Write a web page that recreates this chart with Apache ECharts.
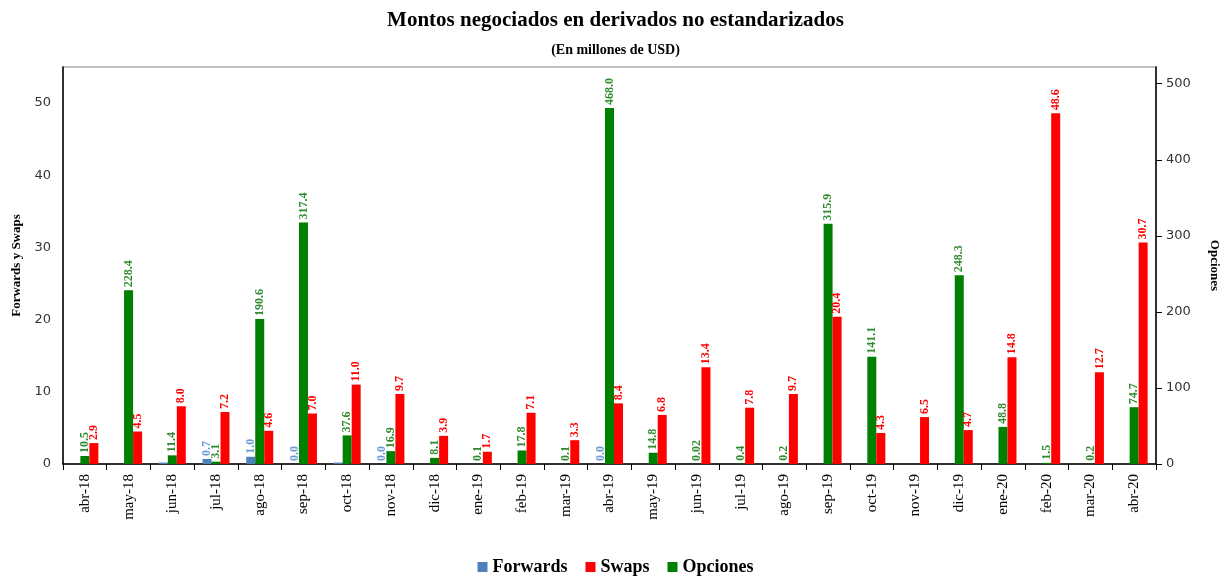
<!DOCTYPE html>
<html>
<head>
<meta charset="utf-8">
<script src="https://cdn.jsdelivr.net/npm/echarts@6/dist/echarts.min.js"></script>
<style>
  html, body { margin: 0; padding: 0; background: #fff; }
  #chart { width: 1231px; height: 587px; }
</style>
</head>
<body>
<div id="chart"></div>
<script>
// meses
const months = ['abr-18', 'may-18', 'jun-18', 'jul-18', 'ago-18', 'sep-18', 'oct-18', 'nov-18', 'dic-18',
  'ene-19', 'feb-19', 'mar-19', 'abr-19', 'may-19', 'jun-19', 'jul-19', 'ago-19', 'sep-19', 'oct-19',
  'nov-19', 'dic-19', 'ene-20', 'feb-20', 'mar-20', 'abr-20'];

// Forwards (eje izq.)
const forwards = [null, null, 0.2, 0.7, 1.0, 0.0, 0.2, 0.0, null, null, null, null, 0.0,
  null, null, null, null, null, null, null, null, null, null, null, null];
// meses donde se ve la etiqueta de forwards
const forwardsLabeled = ['jul-18', 'ago-18', 'sep-18', 'nov-18', 'abr-19'];

// Swaps (eje izq.)
const swaps = [2.9, 4.5, 8.0, 7.2, 4.6, 7.0, 11.0, 9.7, 3.9, 1.7, 7.1, 3.3, 8.4,
  6.8, 13.4, 7.8, 9.7, 20.4, 4.3, 6.5, 4.7, 14.8, 48.6, 12.7, 30.7];

// Opciones (eje der.)
const opciones = [10.5, 228.4, 11.4, 3.1, 190.6, 317.4, 37.6, 16.9, 8.1, 0.1, 17.8, 0.1, 468.0,
  14.8, 0.02, 0.4, 0.2, 315.9, 141.1, null, 248.3, 48.8, 1.5, 0.2, 74.7];

const leftTicks = [0, 10, 20, 30, 40, 50];
const rightTicks = [0, 100, 200, 300, 400, 500];

const serif = '"Liberation Serif", "Times New Roman", serif';

const fmt = (v) => (v < 0.1 && v > 0 ? String(v) : v.toFixed(1));

const barLabel = (color) => ({
  show: true,
  position: 'top',
  rotate: 90,
  align: 'left',
  verticalAlign: 'middle',
  distance: 3,
  color: color,
  fontFamily: serif,
  fontWeight: 'bold',
  fontSize: 12,
  formatter: (p) => (p.value == null ? '' : fmt(p.value))
});

const chart = echarts.init(document.getElementById('chart'));

chart.setOption({
  animation: false,
  title: [
    {
      text: 'Montos negociados en derivados no estandarizados',
      left: 'center',
      top: 5,
      textStyle: { fontFamily: serif, fontWeight: 'bold', fontSize: 21, color: '#000' }
    },
    {
      text: '(En millones de USD)',
      left: 'center',
      top: 38,
      textStyle: { fontFamily: serif, fontWeight: 'bold', fontSize: 14, color: '#000' }
    }
  ],
  legend: {
    data: ['Forwards', 'Swaps', 'Opciones'],
    bottom: 6,
    left: 'center',
    icon: 'rect',
    itemWidth: 10,
    itemHeight: 10,
    itemGap: 18,
    textStyle: { fontFamily: serif, fontWeight: 'bold', fontSize: 18, color: '#000' }
  },
  grid: {
    left: 63,
    right: 75,
    top: 67,
    bottom: 123,
    show: true,
    borderColor: '#c0c0c0',
    borderWidth: 2
  },
  xAxis: {
    type: 'category',
    data: months,
    axisLine: { lineStyle: { color: '#000', width: 1.5 } },
    axisTick: { show: true, alignWithLabel: false, length: 6, lineStyle: { color: '#000' } },
    axisLabel: {
      rotate: 90,
      interval: 0,
      margin: 10,
      fontFamily: serif,
      fontSize: 15,
      color: '#000'
    }
  },
  yAxis: [
    {
      type: 'value',
      name: 'Forwards y Swaps',
      nameLocation: 'middle',
      nameRotate: 90,
      nameGap: 40,
      nameTextStyle: { fontFamily: serif, fontWeight: 'bold', fontSize: 13, color: '#000' },
      min: 0,
      max: 55,
      interval: 10,
      splitLine: { show: false },
      axisLine: { show: true, lineStyle: { color: '#000', width: 1.5 } },
      axisTick: { show: false },
      axisLabel: {
        customValues: leftTicks,
        margin: 12,
        fontFamily: 'Tahoma, "DejaVu Sans", sans-serif',
        fontSize: 13,
        color: '#333'
      }
    },
    {
      type: 'value',
      name: 'Opciones',
      nameLocation: 'middle',
      nameRotate: -90,
      nameGap: 52,
      nameTextStyle: { fontFamily: serif, fontWeight: 'bold', fontSize: 13, color: '#000' },
      min: 0,
      max: 522,
      interval: 100,
      position: 'right',
      splitLine: { show: false },
      axisLine: { show: true, lineStyle: { color: '#000', width: 1.5 } },
      axisTick: { show: true, length: 6, customValues: rightTicks, lineStyle: { color: '#000' } },
      axisLabel: {
        customValues: rightTicks,
        margin: 10,
        fontFamily: 'Tahoma, "DejaVu Sans", sans-serif',
        fontSize: 13,
        color: '#333'
      }
    }
  ],
  series: [
    {
      name: 'Forwards',
      type: 'bar',
      yAxisIndex: 0,
      barWidth: 9,
      barGap: '0%',
      itemStyle: { color: '#4F81BD' },
      data: forwards.map((v, i) => ({
        value: v,
        label: { show: forwardsLabeled.includes(months[i]) }
      })),
      label: barLabel('#6D9AD6')
    },
    {
      name: 'Opciones',
      type: 'bar',
      yAxisIndex: 1,
      barWidth: 9,
      barGap: '0%',
      itemStyle: { color: '#008000' },
      data: opciones,
      label: barLabel('#2E8B2E')
    },
    {
      name: 'Swaps',
      type: 'bar',
      yAxisIndex: 0,
      barWidth: 9,
      barGap: '0%',
      itemStyle: { color: '#FF0000' },
      data: swaps,
      label: barLabel('#FF0000')
    }
  ]
});
</script>
</body>
</html>
